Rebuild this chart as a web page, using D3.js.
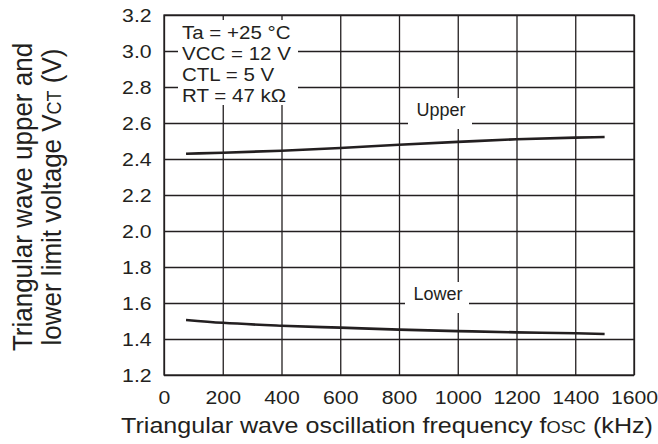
<!DOCTYPE html>
<html>
<head>
<meta charset="utf-8">
<script src="https://cdn.jsdelivr.net/npm/d3@7"></script>
<style>
  body { margin: 0; background: #fff; }
  svg { display: block; }
  text { font-family: "Liberation Sans", Arial, sans-serif; fill: #231f20; }
</style>
</head>
<body>
<svg id="chart" width="658" height="444"></svg>
<script>
// data
const freq = [75, 200, 400, 600, 800, 1000, 1200, 1400, 1500];
const upper = [2.429, 2.435, 2.446, 2.461, 2.479, 2.495, 2.510, 2.519, 2.522];
const lower = [1.506, 1.490, 1.474, 1.463, 1.452, 1.444, 1.437, 1.432, 1.428];
const xTicks = [0, 200, 400, 600, 800, 1000, 1200, 1400, 1600];
const yTicks = [1.2, 1.4, 1.6, 1.8, 2.0, 2.2, 2.4, 2.6, 2.8, 3.0, 3.2];
const conditions = ["Ta = +25 \u00b0C", "VCC = 12 V", "CTL = 5 V", "RT = 47 k\u03a9"];

const ink = "#231f20";
const plotL = 164, plotR = 634, plotT = 15, plotB = 375;
const sx = 1.18; // the reference type is set wide

const svg = d3.select("#chart");

const x = d3.scaleLinear().domain([0, 1600]).range([plotL, plotR]);
const y = d3.scaleLinear().domain([1.2, 3.2]).range([plotB, plotT]);

// grid
svg.append("g")
  .attr("transform", "translate(0," + plotB + ")")
  .call(d3.axisBottom(x).tickValues(xTicks).tickSize(-(plotB - plotT)).tickFormat(""))
  .call(g => g.select(".domain").remove())
  .selectAll("line").attr("stroke", ink).attr("stroke-width", 1.3);

svg.append("g")
  .attr("transform", "translate(" + plotL + ",0)")
  .call(d3.axisLeft(y).tickValues(yTicks).tickSize(-(plotR - plotL)).tickFormat(""))
  .call(g => g.select(".domain").remove())
  .selectAll("line").attr("stroke", ink).attr("stroke-width", 1.3);

svg.append("rect")
  .attr("x", plotL).attr("y", plotT)
  .attr("width", plotR - plotL).attr("height", plotB - plotT)
  .attr("fill", "none").attr("stroke", ink).attr("stroke-width", 1.3);

// tick labels
const xAxis = svg.append("g")
  .attr("transform", "translate(0," + plotB + ")")
  .call(d3.axisBottom(x).tickValues(xTicks).tickSize(0).tickPadding(17).tickFormat(d3.format("d")));
xAxis.select(".domain").remove();
xAxis.selectAll("text")
  .attr("font-size", 18).attr("fill", ink).attr("dy", 12.5)
  .attr("transform", "scale(" + sx + ",1)");

const yAxis = svg.append("g")
  .attr("transform", "translate(" + plotL + ",0)")
  .call(d3.axisLeft(y).tickValues(yTicks).tickSize(0).tickPadding(10.5).tickFormat(d3.format(".1f")));
yAxis.select(".domain").remove();
yAxis.selectAll("text")
  .attr("font-size", 18).attr("fill", ink).attr("dy", 6.5)
  .attr("transform", "scale(" + sx + ",1)");

// curves
const line = d3.line()
  .x((d, i) => x(freq[i]))
  .y(d => y(d))
  .curve(d3.curveMonotoneX);

[upper, lower].forEach(s => {
  svg.append("path")
    .attr("d", line(s))
    .attr("fill", "none")
    .attr("stroke", ink)
    .attr("stroke-width", 2.6);
});

// conditions box
svg.append("rect")
  .attr("x", 178).attr("y", 20).attr("width", 120).attr("height", 85)
  .attr("fill", "#fff");
conditions.forEach((t, i) => {
  svg.append("text")
    .attr("transform", "translate(182," + (38.5 + i * 21) + ") scale(1.14,1)")
    .attr("font-size", 18)
    .text(t);
});

// curve labels
function curveLabel(t, cx, base) {
  svg.append("rect")
    .attr("x", cx - 33).attr("y", base - 18).attr("width", 64).attr("height", 31)
    .attr("fill", "#fff");
  svg.append("text")
    .attr("x", cx).attr("y", base)
    .attr("text-anchor", "middle")
    .attr("font-size", 18)
    .text(t);
}
curveLabel("Upper", 441, 116);
curveLabel("Lower", 438, 300);

// axis titles
const xt = svg.append("text")
  .attr("transform", "translate(387,433) scale(1.14,1)")
  .attr("text-anchor", "middle")
  .attr("font-size", 22);
xt.append("tspan").text("Triangular wave oscillation frequency f");
xt.append("tspan").attr("font-size", 16).text("OSC");
xt.append("tspan").text(" (kHz)");

svg.append("text")
  .attr("transform", "translate(32,197) scale(1.08,1) rotate(-90)")
  .attr("text-anchor", "middle")
  .attr("font-size", 26)
  .text("Triangular wave upper and");

const yt2 = svg.append("text")
  .attr("transform", "translate(61,197) scale(1.08,1) rotate(-90)")
  .attr("text-anchor", "middle")
  .attr("font-size", 26);
yt2.append("tspan").text("lower limit voltage V");
yt2.append("tspan").attr("font-size", 18).text("CT");
yt2.append("tspan").text(" (V)");
</script>
</body>
</html>
